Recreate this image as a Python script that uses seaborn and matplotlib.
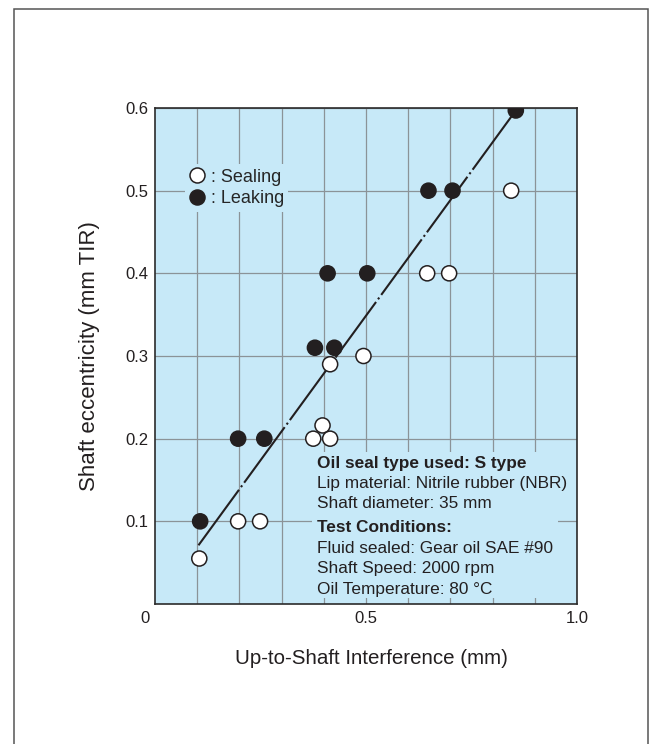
import matplotlib
matplotlib.use("Agg")
import matplotlib.pyplot as plt
from matplotlib.patches import Rectangle
from matplotlib.lines import Line2D
import seaborn as sns
import pandas as pd
import numpy as np

# ---- data ----
sealing_x = [0.105, 0.197, 0.249, 0.375, 0.397, 0.415, 0.415, 0.494, 0.645, 0.697, 0.844]
sealing_y = [0.055, 0.100, 0.100, 0.200, 0.216, 0.200, 0.290, 0.300, 0.400, 0.400, 0.500]
leaking_x = [0.107, 0.197, 0.259, 0.379, 0.425, 0.409, 0.503, 0.648, 0.705, 0.855]
leaking_y = [0.100, 0.200, 0.200, 0.310, 0.310, 0.400, 0.400, 0.500, 0.500, 0.597]
fit_x = [0.103, 0.855]
fit_y = [0.071, 0.597]
status_labels = [": Sealing", ": Leaking"]
x_ticks = [0.5, 1.0]
x_tick_labels = ["0.5", "1.0"]
x_minor = [0.1, 0.2, 0.3, 0.4, 0.6, 0.7, 0.8, 0.9]
y_ticks = [0.1, 0.2, 0.3, 0.4, 0.5, 0.6]
y_tick_labels = ["0.1", "0.2", "0.3", "0.4", "0.5", "0.6"]
origin_label = "0"
x_label = "Up-to-Shaft Interference (mm)"
y_label = "Shaft eccentricity (mm TIR)"
note_lines = [
    "Oil seal type used: S type",
    "Lip material: Nitrile rubber (NBR)",
    "Shaft diameter: 35 mm",
    "Test Conditions:",
    "Fluid sealed: Gear oil SAE #90",
    "Shaft Speed: 2000 rpm",
    "Oil Temperature: 80 °C",
]
note_bold = [True, False, False, True, False, False, False]
note_y = [0.284, 0.242, 0.202, 0.155, 0.112, 0.072, 0.030]

# ---- styling ----
BG = "#c7e9f8"
INK = "#231f20"
GRID = "#8b9398"
sns.set_style("ticks")
plt.rcParams["font.family"] = ["Liberation Sans", "DejaVu Sans"]

df = pd.DataFrame({
    "x": sealing_x + leaking_x,
    "y": sealing_y + leaking_y,
    "status": [status_labels[0]] * len(sealing_x) + [status_labels[1]] * len(leaking_x),
})

fig = plt.figure(figsize=(6.52, 7.44), dpi=100)
ax = fig.add_axes([155 / 652, 1 - 604 / 744, 422 / 652, 496 / 744])
ax.set_facecolor(BG)
ax.set_axisbelow(True)

# fit line
sns.lineplot(x=fit_x, y=fit_y, ax=ax, color=INK, linewidth=1.5, zorder=2.5)
line = ax.get_lines()[-1]
line.set_linestyle((0, (33, 1.6, 1.0, 1.6)))
line.set_dash_capstyle("butt")

# points
sns.scatterplot(data=df, x="x", y="y", hue="status",
                palette={status_labels[0]: "white", status_labels[1]: INK},
                edgecolor=INK, linewidth=1.1, s=118, ax=ax, zorder=3, legend=False)

ax.set_xlim(0, 1.0)
ax.set_ylim(0, 0.6)
ax.set_xticks(x_ticks, x_tick_labels, fontsize=12)
ax.set_xticks(x_minor, minor=True)
ax.set_yticks(y_ticks, y_tick_labels, fontsize=12)
ax.tick_params(which="both", length=0, colors=INK)
ax.tick_params(axis="x", pad=5)
ax.tick_params(axis="y", pad=4.5)
ax.grid(which="both", color=GRID, linewidth=0.9)
for s in ax.spines.values():
    s.set_color("#2b2b2b")
    s.set_linewidth(1.2)

ax.annotate(origin_label, xy=(0, 0), xycoords="axes fraction", xytext=(-7.5, -5),
            textcoords="offset points", ha="center", va="top", fontsize=12, color=INK)

ax.set_xlabel(x_label, fontsize=14.8, color=INK)
ax.xaxis.set_label_coords(0.514, -0.091)
ax.set_ylabel(y_label, fontsize=16, labelpad=18.5, color=INK)

# legend
handles = [
    Line2D([], [], marker="o", linestyle="", markerfacecolor="white",
           markeredgecolor=INK, markersize=10.8, markeredgewidth=1.1),
    Line2D([], [], marker="o", linestyle="", markerfacecolor=INK,
           markeredgecolor=INK, markersize=10.8, markeredgewidth=1.1),
]
leg = ax.legend(handles, status_labels, loc="upper left", bbox_to_anchor=(0.07, 0.887),
                fontsize=13, handlelength=0.9, handletextpad=0.3, labelspacing=0.27,
                borderpad=0.25, borderaxespad=0, frameon=True, fancybox=False,
                facecolor=BG, edgecolor="none", framealpha=1)

# note box
ax.add_patch(Rectangle((0.372, 0.012), 0.583, 0.294, transform=ax.transAxes,
                       facecolor=BG, edgecolor="none", zorder=1.5))
for txt, b, yy in zip(note_lines, note_bold, note_y):
    ax.text(0.383, yy, txt, transform=ax.transAxes, ha="left", va="center",
            fontsize=12.4, fontweight="bold" if b else "normal", color=INK, zorder=4)

# outer frame
fig.add_artist(Rectangle((14 / 652, -0.01), (648 - 14) / 652, 1 - 9 / 744 + 0.01,
                         transform=fig.transFigure, fill=False, edgecolor="#555555",
                         linewidth=1.1))

fig.savefig("out.png", dpi=100)
